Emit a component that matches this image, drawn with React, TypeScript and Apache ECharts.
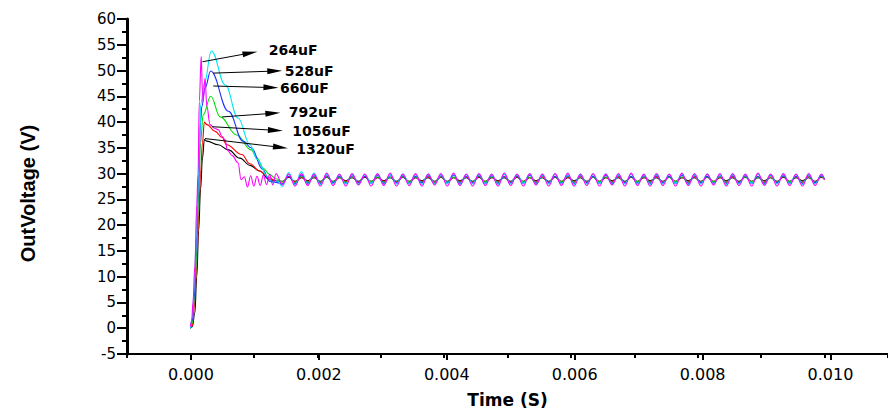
import React, { useEffect, useRef } from "react";
import * as echarts from "echarts";

// ---------- data ----------
const capacitors = ["264uF", "528uF", "660uF", "792uF", "1056uF", "1320uF"];
const lineColors = ["#FF00FF", "#00E5F5", "#1E32FF", "#00DD00", "#FF0000", "#000000"];

// start-up transient (time in s, voltage in V)
const t264 = [0, 0.00002, 0.00004, 0.00007, 0.0001, 0.00012, 0.00014, 0.00017, 0.00019, 0.0002, 0.00023, 0.00026, 0.00031, 0.00038, 0.00044, 0.0005, 0.00055, 0.00058, 0.00066, 0.00075, 0.0008, 0.00085, 0.0009, 0.00095, 0.001, 0.00105, 0.0011, 0.00115, 0.0012, 0.00125, 0.0013, 0.00135];
const v264 = [0.3, 1.5, 5, 12, 24, 30, 44, 52.7, 46, 44, 48.5, 43, 39.5, 38.8, 38.5, 37.2, 36.5, 34.6, 33.5, 32.1, 28.8, 29.4, 27.4, 29.6, 27.6, 29.5, 27.7, 29.7, 27.9, 29.8, 27.8, 30.0];

const t528 = [0, 0.00003, 0.00006, 0.00009, 0.00012, 0.00015, 0.00016, 0.00022, 0.00033, 0.00055, 0.00075, 0.00094, 0.00105, 0.00122, 0.0013, 0.00137];
const v528 = [0, 2, 8, 17, 28, 38, 43.4, 47.5, 53.8, 47.2, 40.8, 35.6, 32.8, 29.4, 28.2, 28.6];

const t660 = [0, 0.00003, 0.00006, 0.0001, 0.00013, 0.00016, 0.00018, 0.00023, 0.00032, 0.0006, 0.00083, 0.00096, 0.00114, 0.00125, 0.00135];
const v660 = [0, 1.5, 6, 18, 30, 40, 43, 46.6, 49.9, 42.1, 36.3, 35.0, 30.8, 28.5, 28.3];

const t792 = [0, 0.00003, 0.00007, 0.0001, 0.00013, 0.00016, 0.0002, 0.00032, 0.00047, 0.00073, 0.00096, 0.00105, 0.00115, 0.00125, 0.00135];
const v792 = [0, 1, 7, 15, 26, 36, 41.4, 45.0, 41.0, 37.5, 34.6, 33.0, 31.0, 29.8, 29.0];

const t1056 = [0, 0.00003, 0.00006, 0.0001, 0.00013, 0.00016, 0.00019, 0.00022, 0.00026, 0.00039, 0.0005, 0.00057, 0.00081, 0.00094, 0.00109, 0.00125, 0.00135];
const v1056 = [0, 0.5, 4, 12, 22, 30, 36, 40.0, 39.5, 38.2, 37.0, 35.6, 33.7, 31.9, 30.5, 29.2, 28.5];

const t1320 = [0, 0.00003, 0.00007, 0.0001, 0.00013, 0.00016, 0.00019, 0.00022, 0.00026, 0.00044, 0.0006, 0.00078, 0.00094, 0.00109, 0.00125, 0.00135];
const v1320 = [0, 0.3, 3, 10, 19, 27, 33, 36.6, 36.3, 35.6, 34.6, 33.0, 31.6, 30.5, 28.8, 28.6];

// steady-state ripple (shared time base)
const tailTime = [
  0.00145, 0.00155, 0.00165, 0.00175, 0.00185, 0.00195, 0.00205, 0.00215, 0.00225, 0.00235,
  0.00245, 0.00255, 0.00265, 0.00275, 0.00285, 0.00295, 0.00305, 0.00315, 0.00325, 0.00335,
  0.00345, 0.00355, 0.00365, 0.00375, 0.00385, 0.00395, 0.00405, 0.00415, 0.00425, 0.00435,
  0.00445, 0.00455, 0.00465, 0.00475, 0.00485, 0.00495, 0.00505, 0.00515, 0.00525, 0.00535,
  0.00545, 0.00555, 0.00565, 0.00575, 0.00585, 0.00595, 0.00605, 0.00615, 0.00625, 0.00635,
  0.00645, 0.00655, 0.00665, 0.00675, 0.00685, 0.00695, 0.00705, 0.00715, 0.00725, 0.00735,
  0.00745, 0.00755, 0.00765, 0.00775, 0.00785, 0.00795, 0.00805, 0.00815, 0.00825, 0.00835,
  0.00845, 0.00855, 0.00865, 0.00875, 0.00885, 0.00895, 0.00905, 0.00915, 0.00925, 0.00935,
  0.00945, 0.00955, 0.00965, 0.00975, 0.00985, 0.00995, 0.01,
];
const tail264 = [
  27.8, 29.9, 27.6, 30.0, 27.7, 29.9, 27.6, 30.1, 27.7, 29.9,
  27.6, 30.0, 27.8, 29.9, 27.6, 30.0, 27.7, 30.1, 27.6, 29.9,
  27.7, 30.0, 27.6, 29.9, 27.8, 30.0, 27.6, 30.1, 27.7, 29.9,
  27.6, 30.0, 27.7, 29.9, 27.6, 30.1, 27.7, 29.9, 27.6, 30.0,
  27.8, 29.9, 27.6, 30.0, 27.7, 30.1, 27.6, 29.9, 27.7, 30.0,
  27.6, 29.9, 27.8, 30.0, 27.6, 30.1, 27.7, 29.9, 27.6, 30.0,
  27.7, 29.9, 27.6, 30.1, 27.7, 30.0, 27.6, 29.9, 27.8, 30.0,
  27.6, 30.0, 27.7, 29.9, 27.6, 30.1, 27.7, 29.9, 27.6, 30.0,
  27.7, 29.9, 27.6, 30.0, 27.7, 29.9, 28.8,
];
const tail528 = [
  27.5, 30.2, 27.8, 30.4, 27.9, 30.1, 27.9, 29.9, 28.0, 29.8,
  28.0, 29.9, 27.9, 29.8, 28.1, 29.9, 27.9, 29.8, 28.0, 29.9,
  28.0, 29.8, 27.9, 29.9, 28.0, 29.8, 28.1, 29.9, 27.9, 29.8,
  28.0, 29.9, 28.0, 29.8, 27.9, 29.9, 28.0, 29.8, 28.1, 29.9,
  27.9, 29.8, 28.0, 29.9, 28.0, 29.8, 27.9, 29.9, 28.0, 29.8,
  28.1, 29.9, 27.9, 29.8, 28.0, 29.9, 28.0, 29.8, 27.9, 29.9,
  28.0, 29.8, 28.1, 29.9, 27.9, 29.8, 28.0, 29.9, 28.0, 29.8,
  27.9, 29.9, 28.0, 29.8, 28.1, 29.9, 27.9, 29.8, 28.0, 29.9,
  28.0, 29.8, 27.9, 29.9, 28.0, 29.8, 28.9,
];
const tail660 = [
  28.0, 29.5, 28.0, 29.7, 28.1, 29.6, 28.1, 29.6, 28.2, 29.5,
  28.1, 29.6, 28.2, 29.5, 28.1, 29.7, 28.1, 29.6, 28.2, 29.6,
  28.1, 29.5, 28.2, 29.6, 28.1, 29.6, 28.2, 29.7, 28.1, 29.5,
  28.2, 29.6, 28.1, 29.6, 28.1, 29.5, 28.2, 29.6, 28.1, 29.7,
  28.1, 29.6, 28.2, 29.5, 28.1, 29.6, 28.1, 29.6, 28.2, 29.5,
  28.1, 29.7, 28.1, 29.6, 28.2, 29.5, 28.1, 29.6, 28.1, 29.6,
  28.2, 29.5, 28.1, 29.7, 28.1, 29.6, 28.2, 29.5, 28.1, 29.6,
  28.1, 29.6, 28.2, 29.6, 28.1, 29.5, 28.1, 29.7, 28.2, 29.6,
  28.1, 29.5, 28.1, 29.6, 28.2, 29.6, 28.9,
];
const tail792 = [
  28.4, 29.5, 28.2, 29.5, 28.3, 29.4, 28.3, 29.4, 28.4, 29.3,
  28.3, 29.4, 28.3, 29.5, 28.4, 29.4, 28.3, 29.3, 28.3, 29.4,
  28.4, 29.4, 28.3, 29.5, 28.3, 29.4, 28.4, 29.3, 28.3, 29.4,
  28.3, 29.5, 28.4, 29.4, 28.3, 29.4, 28.3, 29.5, 28.4, 29.3,
  28.3, 29.4, 28.3, 29.4, 28.4, 29.5, 28.3, 29.4, 28.3, 29.3,
  28.4, 29.4, 28.3, 29.5, 28.3, 29.4, 28.4, 29.4, 28.3, 29.5,
  28.3, 29.3, 28.4, 29.4, 28.3, 29.5, 28.3, 29.4, 28.4, 29.4,
  28.3, 29.5, 28.3, 29.4, 28.4, 29.3, 28.3, 29.4, 28.3, 29.5,
  28.4, 29.4, 28.3, 29.4, 28.3, 29.5, 28.9,
];
const tail1056 = [
  28.4, 29.4, 28.4, 29.3, 28.5, 29.3, 28.4, 29.4, 28.4, 29.3,
  28.5, 29.3, 28.4, 29.4, 28.4, 29.3, 28.5, 29.3, 28.4, 29.4,
  28.4, 29.3, 28.5, 29.3, 28.4, 29.4, 28.4, 29.3, 28.5, 29.3,
  28.4, 29.4, 28.4, 29.3, 28.5, 29.3, 28.4, 29.4, 28.4, 29.3,
  28.5, 29.3, 28.4, 29.4, 28.4, 29.3, 28.5, 29.3, 28.4, 29.4,
  28.4, 29.3, 28.5, 29.3, 28.4, 29.4, 28.4, 29.3, 28.5, 29.3,
  28.4, 29.4, 28.4, 29.3, 28.5, 29.3, 28.4, 29.4, 28.4, 29.3,
  28.5, 29.3, 28.4, 29.4, 28.4, 29.3, 28.5, 29.3, 28.4, 29.4,
  28.4, 29.3, 28.5, 29.3, 28.4, 29.4, 28.9,
];
const tail1320 = [
  28.5, 29.3, 28.5, 29.2, 28.6, 29.2, 28.5, 29.3, 28.5, 29.2,
  28.6, 29.2, 28.5, 29.3, 28.5, 29.2, 28.6, 29.2, 28.5, 29.3,
  28.5, 29.2, 28.6, 29.2, 28.5, 29.3, 28.5, 29.2, 28.6, 29.2,
  28.5, 29.3, 28.5, 29.2, 28.6, 29.2, 28.5, 29.3, 28.5, 29.2,
  28.6, 29.2, 28.5, 29.3, 28.5, 29.2, 28.6, 29.2, 28.5, 29.3,
  28.5, 29.2, 28.6, 29.2, 28.5, 29.3, 28.5, 29.2, 28.6, 29.2,
  28.5, 29.3, 28.5, 29.2, 28.6, 29.2, 28.5, 29.3, 28.5, 29.2,
  28.6, 29.2, 28.5, 29.3, 28.5, 29.2, 28.6, 29.2, 28.5, 29.3,
  28.5, 29.2, 28.6, 29.2, 28.5, 29.3, 28.9,
];

// annotation arrows: from curve point to label (data units)
const arrowFrom = [
  [0.00019, 51.7], [0.00036, 49.5], [0.00036, 47.0], [0.0005, 41.0], [0.00034, 39.1], [0.00023, 36.8],
];
const arrowTo = [
  [0.00094, 53.4], [0.00133, 49.9], [0.00127, 46.7], [0.0013, 41.7], [0.00134, 38.4], [0.00142, 35.1],
];

const transientT = [t264, t528, t660, t792, t1056, t1320];
const transientV = [v264, v528, v660, v792, v1056, v1320];
const tailV = [tail264, tail528, tail660, tail792, tail1056, tail1320];

// label gap after each arrow (style)
const labelDistance = [19, 10, 9, 16, 17, 16];

const FONT = "'DejaVu Sans', 'Liberation Sans', Arial, sans-serif";

function buildOption() {
  const series: any[] = capacitors.map((name, i) => {
    const data: number[][] = [];
    transientT[i].forEach((t, j) => data.push([t, transientV[i][j]]));
    tailTime.forEach((t, j) => data.push([t, tailV[i][j]]));
    return {
      name,
      type: "line",
      xAxisIndex: 0,
      yAxisIndex: 0,
      data,
      showSymbol: false,
      symbol: "none",
      smooth: 0.4,
      smoothMonotone: "x",
      lineStyle: { color: lineColors[i], width: 1.1 },
      itemStyle: { color: lineColors[i] },
      markLine: {
        silent: true,
        animation: false,
        symbol: ["none", "triangle"],
        lineStyle: { color: "#000", width: 1, type: "solid" },
        data: [
          [
            {
              name,
              coord: arrowFrom[i],
              symbol: "none",
              label: {
                show: true,
                position: "end",
                formatter: "{b}",
                distance: labelDistance[i],
                color: "#000",
                fontFamily: FONT,
                fontWeight: "bold",
                fontSize: 14,
              },
            },
            { coord: arrowTo[i], symbol: "triangle", symbolSize: [6, 15] },
          ],
        ],
      },
    };
  });
  series.reverse();

  return {
    animation: false,
    backgroundColor: "#ffffff",
    grid: [
      { left: 127, right: -6, top: 19, bottom: 60, containLabel: false },
      { left: 191, right: 57.5, top: 19, bottom: 60, containLabel: false },
    ],
    xAxis: [
      {
        type: "value",
        gridIndex: 0,
        min: -0.001,
        max: 0.011,
        interval: 0.001,
        name: "Time (S)",
        nameLocation: "middle",
        nameGap: 37,
        nameTextStyle: { fontFamily: FONT, fontWeight: "bold", fontSize: 17, color: "#000" },
        axisLine: { show: true, onZero: false, lineStyle: { color: "#000", width: 2 } },
        axisTick: { show: true, length: 4, lineStyle: { color: "#000", width: 2 } },
        axisLabel: { show: false },
        splitLine: { show: false },
      },
      {
        type: "value",
        gridIndex: 1,
        min: 0,
        max: 0.01,
        interval: 0.002,
        axisLine: { show: false, onZero: false },
        axisTick: { show: true, length: 6, lineStyle: { color: "#000", width: 2 } },
        axisLabel: {
          show: true,
          margin: 12,
          fontFamily: FONT,
          fontSize: 16,
          color: "#000",
          formatter: (v: number) => v.toFixed(3),
        },
        splitLine: { show: false },
      },
    ],
    yAxis: [
      {
        type: "value",
        gridIndex: 0,
        min: -5,
        max: 60,
        interval: 5,
        name: "OutVoltage (V)",
        nameLocation: "middle",
        nameGap: 89,
        nameTextStyle: {
          fontFamily: "'Liberation Sans', Arial, sans-serif",
          fontWeight: "bold",
          fontSize: 20,
          color: "#000",
          padding: [0, 14, 0, 0],
        },
        axisLine: { show: true, onZero: false, lineStyle: { color: "#000", width: 3 } },
        axisTick: { show: true, length: 10, lineStyle: { color: "#000", width: 2 } },
        minorTick: { show: true, splitNumber: 2, length: 5, lineStyle: { color: "#000", width: 2 } },
        axisLabel: { margin: 11, fontFamily: FONT, fontSize: 15, color: "#000" },
        splitLine: { show: false },
        minorSplitLine: { show: false },
      },
      {
        type: "value",
        gridIndex: 1,
        min: -5,
        max: 60,
        show: false,
      },
    ],
    series,
  };
}

export default function App() {
  const ref = useRef<HTMLDivElement>(null);
  useEffect(() => {
    if (!ref.current) return;
    const chart = echarts.init(ref.current, null, { renderer: "svg" });
    chart.setOption(buildOption() as any);
    return () => chart.dispose();
  }, []);
  return (
    <div
      ref={ref}
      style={{ position: "absolute", left: 0, top: 0, width: 888, height: 414, background: "#fff" }}
    />
  );
}
